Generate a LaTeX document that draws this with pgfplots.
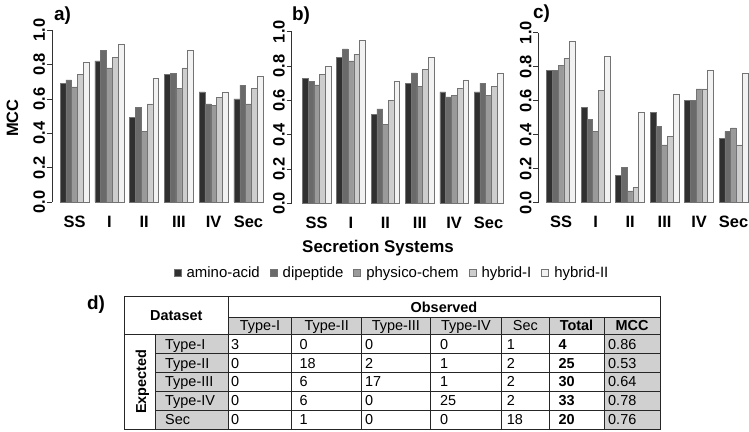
\documentclass[border=0pt]{standalone}
\usepackage{fontspec}
\setmainfont{Liberation Sans}
\usepackage{pgfplots}
\pgfplotsset{compat=1.18}
\usepackage{pgfplotstable}

\definecolor{cA}{HTML}{303030}
\definecolor{cB}{HTML}{6A6A6A}
\definecolor{cC}{HTML}{9A9A9A}
\definecolor{cD}{HTML}{CDCDCD}
\definecolor{cE}{HTML}{F2F2F2}
\definecolor{cellgray}{HTML}{D0D0D0}

\pgfplotstableread{
g aa dp pc h1 h2
SS 0.69 0.71 0.67 0.74 0.81
I 0.82 0.88 0.78 0.84 0.92
II 0.49 0.55 0.41 0.57 0.72
III 0.74 0.75 0.66 0.78 0.88
IV 0.64 0.57 0.56 0.61 0.64
Sec 0.60 0.68 0.57 0.66 0.73
}\dataA
\pgfplotstableread{
g aa dp pc h1 h2
SS 0.73 0.71 0.69 0.75 0.80
I 0.85 0.90 0.83 0.87 0.95
II 0.52 0.55 0.46 0.60 0.71
III 0.70 0.76 0.68 0.78 0.85
IV 0.65 0.62 0.63 0.67 0.72
Sec 0.65 0.70 0.63 0.68 0.76
}\dataB
\pgfplotstableread{
g aa dp pc h1 h2
SS 0.78 0.78 0.81 0.85 0.95
I 0.56 0.49 0.42 0.66 0.86
II 0.16 0.21 0.07 0.09 0.53
III 0.53 0.45 0.34 0.39 0.64
IV 0.60 0.60 0.67 0.67 0.78
Sec 0.38 0.42 0.44 0.34 0.76
}\dataC

\pgfplotsset{
  panel/.style={
    scale only axis, anchor=south west,
    ymin=0, ymax=1,
    axis x line*=bottom, axis y line*=left,
    axis line style={-},
    x axis line style={draw=none},
    y axis line style={line width=0.6bp, black!80},
    ytick={0,0.2,0.4,0.6,0.8,1},
    yticklabels={0.0,0.2,0.4,0.6,0.8,1.0},
    tick align=outside, major tick length=5bp,
    ytick style={line width=0.6bp, black!80},
    xtick={3.5,9.5,15.5,21.5,27.5,33.5},
    xticklabels={SS,I,II,III,IV,Sec},
    xtick style={draw=none},
    ticklabel style={font=\bfseries\fontsize{16.5}{16.5}\selectfont},
    yticklabel style={rotate=90, anchor=base, inner sep=0pt, yshift=2bp},
    xticklabel style={anchor=base, inner sep=0pt, yshift=-20bp},
    ybar, bar width=1, bar shift=0pt,
    clip=false,
  },
  bs/.style={fill=#1, draw=black!55, line width=0.5bp,
    legend image code/.code={\draw[fill=#1, draw=black!55, line width=0.5bp] (0bp,-3.5bp) rectangle (7bp,3.5bp);}},
}

\newcommand\cellL[3]{\node[cell, anchor=west] at (#1bp,-#2bp) {#3};}
\newcommand\cellC[3]{\node[cell, anchor=center] at (#1bp,-#2bp) {#3};}

\begin{document}
\begin{tikzpicture}[cell/.style={inner sep=0pt, text height=10.4bp, text depth=0pt, font=\fontsize{14.5}{14.5}\selectfont}]
\useasboundingbox (0,0) rectangle (749bp,-432bp);

% ---- panel a
\begin{axis}[panel, at={(51.9bp,-202bp)}, width=219.2bp, height=172bp, xmin=-0.4, xmax=37.4]
\addplot[bs=cA] table[x expr=\coordindex*6+1.5, y=aa] {\dataA};
\addplot[bs=cB] table[x expr=\coordindex*6+2.5, y=dp] {\dataA};
\addplot[bs=cC] table[x expr=\coordindex*6+3.5, y=pc] {\dataA};
\addplot[bs=cD] table[x expr=\coordindex*6+4.5, y=h1] {\dataA};
\addplot[bs=cE] table[x expr=\coordindex*6+5.5, y=h2] {\dataA};
\end{axis}

% ---- panel b
\begin{axis}[panel, at={(291.7bp,-203.3bp)}, width=219.2bp, height=171.6bp, xmin=-0.85, xmax=37.4,
  legend columns=5,
  legend style={draw=none, fill=none, at={(0.4576,-0.4044)}, anchor=center,
    font=\fontsize{15}{15}\selectfont, inner sep=0pt,
    /tikz/every even column/.append style={column sep=8bp},
    /tikz/every odd column/.append style={column sep=3.5bp}},
  legend cell align=left]
\addplot[bs=cA] table[x expr=\coordindex*6+1.5, y=aa] {\dataB};
\addplot[bs=cB] table[x expr=\coordindex*6+2.5, y=dp] {\dataB};
\addplot[bs=cC] table[x expr=\coordindex*6+3.5, y=pc] {\dataB};
\addplot[bs=cD] table[x expr=\coordindex*6+4.5, y=h1] {\dataB};
\addplot[bs=cE] table[x expr=\coordindex*6+5.5, y=h2] {\dataB};
\legend{amino-acid,dipeptide,physico-chem,hybrid-I,hybrid-II}
\end{axis}

% ---- panel c
\begin{axis}[panel, at={(538.3bp,-202.7bp)}, width=210.8bp, height=170bp, xmin=-0.46, xmax=36.2]
\addplot[bs=cA] table[x expr=\coordindex*6+1.5, y=aa] {\dataC};
\addplot[bs=cB] table[x expr=\coordindex*6+2.5, y=dp] {\dataC};
\addplot[bs=cC] table[x expr=\coordindex*6+3.5, y=pc] {\dataC};
\addplot[bs=cD] table[x expr=\coordindex*6+4.5, y=h1] {\dataC};
\addplot[bs=cE] table[x expr=\coordindex*6+5.5, y=h2] {\dataC};
\end{axis}

% ---- labels
\node[font=\bfseries\fontsize{19}{19}\selectfont] at (62.5bp,-16bp) {a)};
\node[font=\bfseries\fontsize{19}{19}\selectfont] at (301bp,-16bp) {b)};
\node[font=\bfseries\fontsize{19}{19}\selectfont] at (541.5bp,-14bp) {c)};
\node[font=\bfseries\fontsize{16.5}{16.5}\selectfont, rotate=90] at (12.5bp,-118bp) {MCC};
\node[font=\bfseries\fontsize{17}{17}\selectfont] at (378bp,-247.7bp) {Secretion Systems};

% ---- table d
\node[font=\bfseries\fontsize{19}{19}\selectfont] at (96bp,-305bp) {d)};
\fill[cellgray] (228.3bp,-317bp) rectangle (660bp,-334.3bp);
\fill[cellgray] (155bp,-334.3bp) rectangle (228.3bp,-429bp);
\fill[cellgray] (604bp,-334.3bp) rectangle (660bp,-429bp);
\begin{scope}[line width=0.8bp, black!85]
\draw (124.3bp,-296.7bp) rectangle (660bp,-429bp);
\draw (228.3bp,-317bp) -- (660bp,-317bp);
\draw (124.3bp,-334.3bp) -- (660bp,-334.3bp);
\foreach \yy in {353.3,372.3,391,410} {\draw (155bp,-\yy bp) -- (660bp,-\yy bp);}
\draw (155bp,-334.3bp) -- (155bp,-429bp);
\draw (228.3bp,-296.7bp) -- (228.3bp,-429bp);
\foreach \xx in {291.7,361.7,430,501.7,549,604} {\draw (\xx bp,-317bp) -- (\xx bp,-429bp);}
\end{scope}

\cellC{176.3}{315.5}{\bfseries Dataset}
\cellC{444}{306.9}{\bfseries Observed}
\node[cell, rotate=90, anchor=center] at (141bp,-381.7bp) {\bfseries Expected};
\cellC{260}{325.7}{Type-I}
\cellC{326.7}{325.7}{Type-II}
\cellC{395.9}{325.7}{Type-III}
\cellC{465.9}{325.7}{Type-IV}
\cellC{525.4}{325.7}{Sec}
\cellC{576.5}{325.7}{\bfseries Total}
\cellC{632}{325.7}{\bfseries MCC}

% rows
\cellL{165}{343.8}{Type-I}
\cellL{165}{362.8}{Type-II}
\cellL{165}{381.7}{Type-III}
\cellL{165}{400.5}{Type-IV}
\cellL{165}{419.5}{Sec}

\cellL{231}{343.8}{3}   \cellL{299.3}{343.8}{0}  \cellL{365}{343.8}{0}  \cellL{440}{343.8}{0}  \cellL{506.7}{343.8}{1}  \cellL{558.3}{343.8}{\bfseries 4}  \cellL{608}{343.8}{0.86}
\cellL{231}{362.8}{0}   \cellL{299.3}{362.8}{18} \cellL{365}{362.8}{2}  \cellL{440}{362.8}{1}  \cellL{506.7}{362.8}{2}  \cellL{558.3}{362.8}{\bfseries 25} \cellL{608}{362.8}{0.53}
\cellL{231}{381.7}{0}   \cellL{299.3}{381.7}{6}  \cellL{365}{381.7}{17} \cellL{440}{381.7}{1}  \cellL{506.7}{381.7}{2}  \cellL{558.3}{381.7}{\bfseries 30} \cellL{608}{381.7}{0.64}
\cellL{231}{400.5}{0}   \cellL{299.3}{400.5}{6}  \cellL{365}{400.5}{0}  \cellL{440}{400.5}{25} \cellL{506.7}{400.5}{2}  \cellL{558.3}{400.5}{\bfseries 33} \cellL{608}{400.5}{0.78}
\cellL{231}{419.5}{0}   \cellL{299.3}{419.5}{1}  \cellL{365}{419.5}{0}  \cellL{440}{419.5}{0}  \cellL{506.7}{419.5}{18} \cellL{558.3}{419.5}{\bfseries 20} \cellL{608}{419.5}{0.76}
\end{tikzpicture}
\end{document}
